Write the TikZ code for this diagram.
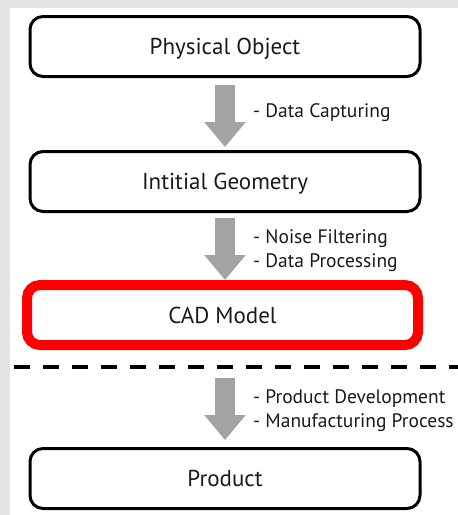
\documentclass[tikz,border=0pt]{standalone}
\usepackage{fontspec}
\setmainfont{PT Sans}
\usetikzlibrary{arrows.meta}
\definecolor{bggray}{HTML}{E3E3E3}
\definecolor{arrgray}{HTML}{A3A3A3}
\definecolor{txt}{HTML}{1A1A1A}
\definecolor{cadred}{HTML}{FF0000}
\begin{document}
\begin{tikzpicture}[x=1pt,y=-1pt,
  stage/.style={draw=black, line width=3pt, rounded corners=13pt,
    minimum width=390pt, minimum height=60pt, inner sep=0pt,
    font=\fontsize{23}{27}\selectfont, text=txt,
    text height=16pt, text depth=0pt},
  cadbox/.style={draw=cadred, line width=10pt, rounded corners=13pt,
    minimum width=391pt, minimum height=60pt, inner sep=0pt,
    font=\fontsize{23}{27}\selectfont, text=txt,
    text height=16pt, text depth=0pt},
  steplabel/.style={anchor=base west, inner sep=0pt, text=txt,
    font=\fontsize{19.5}{23}\selectfont},
  blockarrow/.style={draw=arrgray, line width=20pt,
    -{Triangle[width=40pt,length=25pt]}}
]
\useasboundingbox (0,0) rectangle (458,515);
\fill[bggray] (0,0) rectangle (458,515);
\fill[white] (10,8) rectangle (458,515);

\node[stage] (phys) at (225,46.5) {Physical Object};
\node[stage] (geom) at (225,181.5) {Intitial Geometry};
\node[cadbox] (cad) at (222.5,315) {CAD Model};
\node[stage] (prod) at (225,478.5) {Product};

\draw[line width=4pt, dash pattern=on 16pt off 13pt] (14,367) -- (458,367);
\coordinate (dl) at (225,367);

\draw[blockarrow, shorten <=7pt, shorten >=3pt] (phys.south) -- (geom.north);
\draw[blockarrow, shorten <=5pt, shorten >=0pt] (geom.south) -- (geom.south |- cad.north);
\draw[blockarrow, shorten <=11pt, shorten >=7pt] (dl) -- (prod.north);

\node[steplabel] (l1) at (253,117) {- Data Capturing};
\node[steplabel] (l2) at (253,243) {- Noise Filtering};
\node[steplabel] (l3) at (253,267) {- Data Processing};
\node[steplabel] (l4) at (253,403) {- Product Development};
\node[steplabel] (l5) at (253,427) {- Manufacturing Process};
\end{tikzpicture}
\end{document}
